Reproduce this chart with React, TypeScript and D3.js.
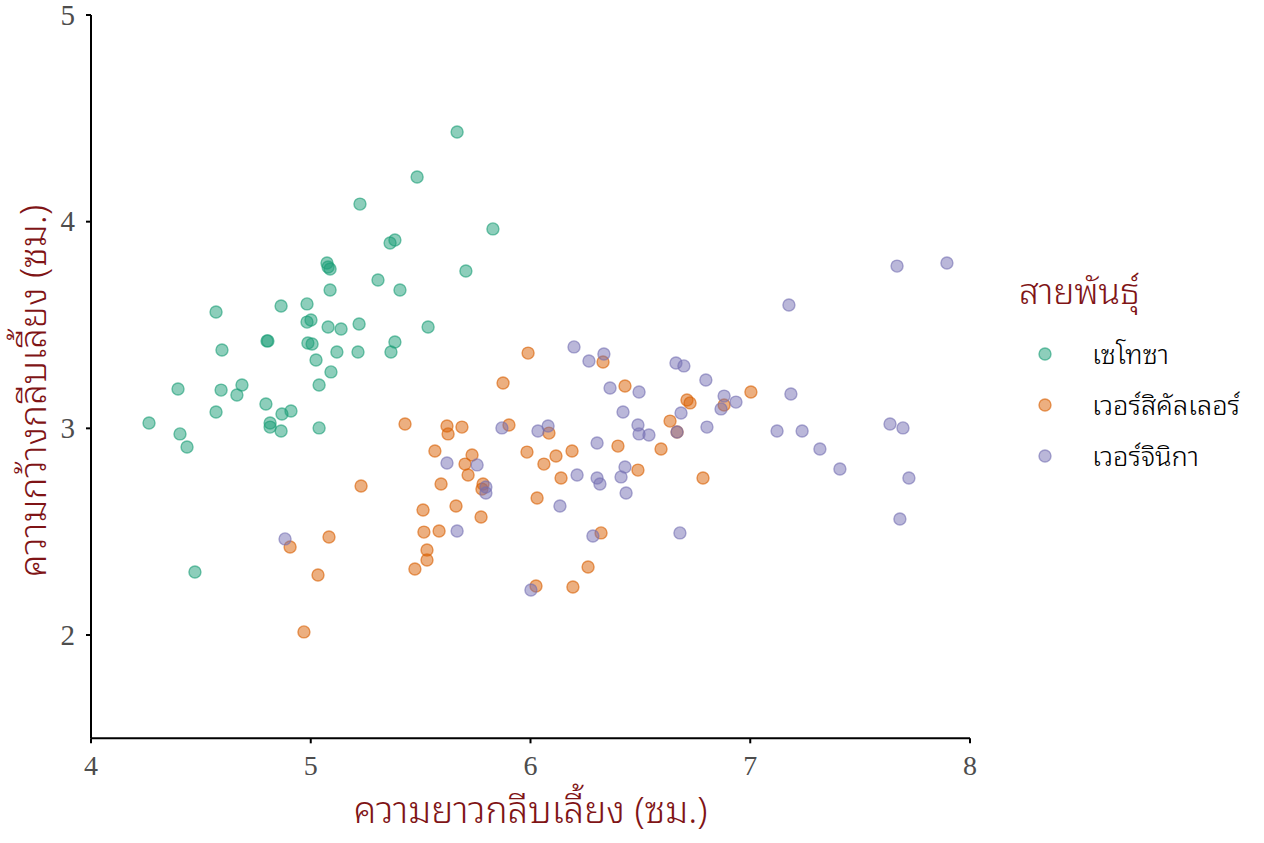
import React from "react";
import * as d3 from "d3";

const speciesNames = ["เซโทซา", "เวอร์สิคัลเลอร์", "เวอร์จินิกา"];
const speciesColors = ["#1B9E77", "#D95F02", "#7570B3"];

const setosaX = [4.264,4.396,4.405,4.437,4.473,4.569,4.569,4.592,4.596,4.664,4.687,4.796,4.801,4.805,4.815,4.815,4.865,4.865,4.869,4.910,4.983,4.983,5.001,4.987,5.006,5.024,5.038,5.038,5.074,5.079,5.088,5.079,5.088,5.092,5.119,5.138,5.215,5.220,5.224,5.306,5.361,5.383,5.365,5.383,5.406,5.484,5.534,5.666,5.706,5.829];
const setosaY = [3.026,3.190,2.973,2.910,2.305,3.563,3.079,3.185,3.379,3.161,3.210,3.118,3.423,3.423,3.026,3.006,2.987,3.592,3.069,3.084,3.602,3.514,3.524,3.413,3.408,3.331,3.210,3.002,3.800,3.781,3.771,3.490,3.669,3.273,3.369,3.481,3.369,3.505,4.085,3.718,3.897,3.911,3.369,3.418,3.669,4.216,3.490,4.434,3.761,3.965];

const versicolorX = [5.989,5.875,5.429,5.620,5.625,5.688,5.902,5.565,5.734,5.702,5.716,5.593,5.784,5.779,5.984,6.061,6.030,5.229,5.511,5.661,5.775,5.515,5.584,5.529,5.529,5.474,5.083,4.906,5.033,4.969,6.025,6.330,6.430,6.084,6.116,6.189,6.139,6.398,6.489,6.594,6.635,6.712,6.726,6.881,7.003,6.785,6.321,6.262,6.193,6.667];
const versicolorY = [3.364,3.219,3.021,3.011,2.973,3.006,3.016,2.890,2.871,2.827,2.774,2.731,2.731,2.706,2.885,2.827,2.663,2.721,2.605,2.624,2.571,2.498,2.503,2.411,2.363,2.319,2.474,2.426,2.290,2.015,2.237,3.321,3.205,2.977,2.866,2.890,2.760,2.914,2.798,2.900,3.035,3.137,3.123,3.113,3.176,2.760,2.494,2.329,2.232,2.982];

const virginicaX = [6.198,6.266,6.334,6.362,6.494,6.662,6.698,6.798,6.881,6.867,6.935,7.185,6.421,6.685,6.489,6.494,6.539,6.803,6.667,7.122,7.236,5.870,6.034,6.080,6.303,5.757,6.212,6.303,6.316,6.412,6.430,6.435,5.797,5.797,6.134,6.284,6.680,6.002,7.668,7.895,7.176,7.317,7.408,7.636,7.695,7.722,7.681,5.620,5.666,4.883];
const virginicaY = [3.394,3.326,3.360,3.195,3.176,3.316,3.302,3.234,3.156,3.094,3.127,3.166,3.079,3.074,3.016,2.973,2.968,3.006,2.982,2.987,2.987,3.002,2.987,3.011,2.929,2.823,2.774,2.760,2.731,2.765,2.813,2.687,2.716,2.687,2.624,2.479,2.494,2.218,3.785,3.800,3.597,2.900,2.803,3.021,3.002,2.760,2.561,2.832,2.503,2.465];

const xTicks = [4, 5, 6, 7, 8];
const yTicks = [2, 3, 4, 5];
const xTitle = "ความยาวกลีบเลี้ยง (ซม.)";
const yTitle = "ความกว้างกลีบเลี้ยง (ซม.)";
const legendTitle = "สายพันธุ์";

const seriesX = [setosaX, versicolorX, virginicaX];
const seriesY = [setosaY, versicolorY, virginicaY];

export default function App() {
  const W = 1264, H = 843;
  const x = d3.scaleLinear().domain([4, 8]).range([91, 970]);
  const y = d3.scaleLinear().domain([2, 5]).range([635, 15]);
  const yBottom = y(1.5);
  const titleColor = "#7F1416";
  const thaiFont = "'Noto Sans Thai Looped', Loma, Garuda, Kinnari, 'Noto Sans', 'Noto Sans Thai', sans-serif";
  const tickFont = "'Liberation Serif', serif";
  const pointR = 6;
  const thaiWeight = 300;

  return (
    <svg width={W} height={H} style={{ position: "absolute", left: 0, top: 0, background: "#fff" }}>
      {seriesX.map((xs, si) => (
        <g key={si}>
          {xs.map((xv, i) => (
            <circle
              key={i}
              cx={x(xv)}
              cy={y(seriesY[si][i])}
              r={pointR}
              fill={speciesColors[si]}
              fillOpacity={0.5}
              stroke={speciesColors[si]}
              strokeOpacity={0.6}
              strokeWidth={1.4}
            />
          ))}
        </g>
      ))}
      <line x1={x(4)} x2={x(4)} y1={y(5)} y2={yBottom} stroke="#000" strokeWidth={2} />
      <line x1={x(4)} x2={x(8)} y1={yBottom} y2={yBottom} stroke="#000" strokeWidth={2} />
      {yTicks.map((t) => (
        <g key={"y" + t}>
          <line x1={x(4) - 5} x2={x(4)} y1={y(t)} y2={y(t)} stroke="#000" strokeWidth={2} />
          <text x={x(4) - 16} y={y(t)} dy="0.33em" textAnchor="end" fontFamily={tickFont} fontSize={29} fill="#4D4D4D">
            {t}
          </text>
        </g>
      ))}
      {xTicks.map((t) => (
        <g key={"x" + t}>
          <line x1={x(t)} x2={x(t)} y1={yBottom} y2={yBottom + 5} stroke="#000" strokeWidth={2} />
          <text x={x(t)} y={yBottom + 37} textAnchor="middle" fontFamily={tickFont} fontSize={28} fill="#4D4D4D">
            {t}
          </text>
        </g>
      ))}
      <text x={(x(4) + x(8)) / 2} y={823} textAnchor="middle" fontFamily={thaiFont} fontWeight={thaiWeight} fontSize={37} fill={titleColor}>
        {xTitle}
      </text>
      <text
        transform={`translate(46, 391) rotate(-90)`}
        textAnchor="middle"
        fontFamily={thaiFont}
        fontWeight={thaiWeight}
        fontSize={37}
        fill={titleColor}
      >
        {yTitle}
      </text>
      <text x={1019} y={304} fontFamily={thaiFont} fontWeight={thaiWeight} fontSize={35.5} fill={titleColor}>
        {legendTitle}
      </text>
      {speciesNames.map((name, i) => (
        <g key={name}>
          <circle
            cx={1045}
            cy={354 + i * 51}
            r={pointR}
            fill={speciesColors[i]}
            fillOpacity={0.5}
            stroke={speciesColors[i]}
            strokeOpacity={0.6}
            strokeWidth={1.4}
          />
          <text x={1092} y={354 + i * 51} dy="0.35em" fontFamily={thaiFont} fontWeight={thaiWeight} fontSize={27.3} fill="#000">
            {name}
          </text>
        </g>
      ))}
    </svg>
  );
}
